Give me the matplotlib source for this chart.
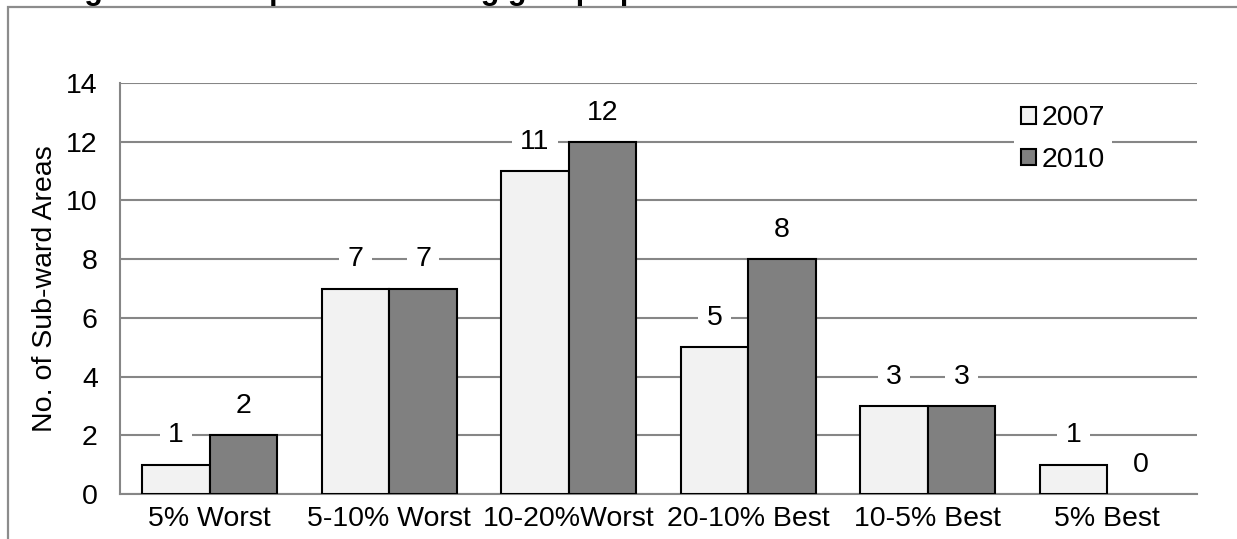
import matplotlib
matplotlib.use("Agg")
import matplotlib.pyplot as plt
import numpy as np
from matplotlib.patches import Rectangle

plt.rcParams['font.family'] = ['Liberation Sans', 'DejaVu Sans']

categories = ["5% Worst", "5-10% Worst", "10-20%Worst", "20-10% Best", "10-5% Best", "5% Best"]
series_names = ["2007", "2010"]
values_2007 = [1, 7, 11, 5, 3, 1]
values_2010 = [2, 7, 12, 8, 3, 0]
y_ticks = [0, 2, 4, 6, 8, 10, 12, 14]
y_label = "No. of Sub-ward Areas"
title = "Changes in the aspiration ranking groups per ward from 2007 to 2010"

FS = 20.5
W, H = 1237, 539
fig = plt.figure(figsize=(W / 100, H / 100), dpi=100)
fig.patch.set_facecolor("white")

# outer chart frame (top and left edges visible)
fig.add_artist(Rectangle((8 / W, -0.05), 1.2, 1 - 7 / H + 0.05, transform=fig.transFigure,
                         fill=False, edgecolor="#8c8c8c", linewidth=1.6, zorder=0))
fig.text(8 / W, 1 + 0.5 / H, title, ha="left", va="baseline", fontsize=22,
         fontweight="bold", color="black")

ax = fig.add_axes([120 / W, 1 - 494 / H, (1197 - 120) / W, (494 - 83) / H])
ax.set_xlim(-0.5, len(categories) - 0.5)
ax.set_ylim(0, 14)

x = np.arange(len(categories))
bw = 0.376
b1 = ax.bar(x - bw / 2, values_2007, bw, color="#f2f2f2", edgecolor="black",
            linewidth=1.5, label=series_names[0], zorder=3)
b2 = ax.bar(x + bw / 2, values_2010, bw, color="#808080", edgecolor="black",
            linewidth=1.5, label=series_names[1], zorder=3)

for bars, vals in ((b1, values_2007), (b2, values_2010)):
    for rect, v in zip(bars, vals):
        if v == 0:
            rect.set_linewidth(0)
        ax.annotate(str(v), (rect.get_x() + rect.get_width() / 2, v),
                    xytext=(0, 21), textcoords="offset points",
                    ha="center", va="center", fontsize=FS, zorder=4,
                    bbox=dict(boxstyle="square,pad=0.3", facecolor="white", edgecolor="none"))

ax.set_yticks(y_ticks)
ax.set_xticks(x)
ax.set_xticklabels(categories)
ax.tick_params(axis="both", length=0, labelsize=FS, colors="black")
ax.tick_params(axis="y", pad=16)
ax.tick_params(axis="x", pad=9)
ax.yaxis.grid(True, color="#868686", linewidth=1.5, zorder=0)
ax.set_axisbelow(True)
for s in ("top", "right"):
    ax.spines[s].set_visible(False)
for s in ("left", "bottom"):
    ax.spines[s].set_color("#868686")
    ax.spines[s].set_linewidth(1.5)

ax.set_ylabel(y_label, fontsize=FS, labelpad=6)

leg = ax.legend(loc="upper left", bbox_to_anchor=(0.830, 0.963), fontsize=FS,
                frameon=True, fancybox=False, edgecolor="none", facecolor="white",
                framealpha=1, handlelength=0.53, handleheight=0.53, handletextpad=0.2,
                labelspacing=0.55, borderpad=0.25, borderaxespad=0)

fig.savefig("out.png", dpi=100)
